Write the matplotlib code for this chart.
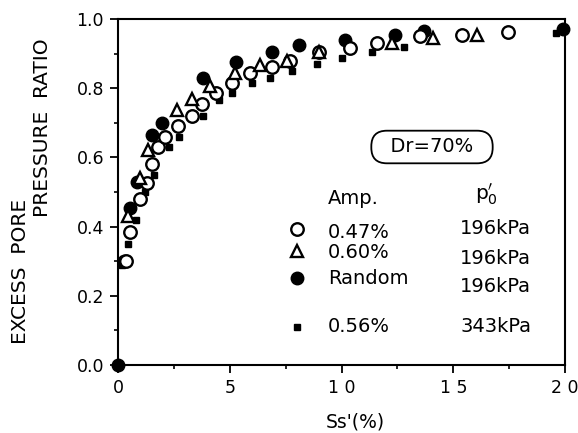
import numpy as np
import matplotlib
matplotlib.use("Agg")
import matplotlib.pyplot as plt

plt.rcParams['font.family'] = ['DejaVu Sans']

# 0.47%, 196kPa (open circles)
ss_047 = [0.35, 0.55, 1.0, 1.3, 1.5, 1.8, 2.1, 2.7, 3.3, 3.75, 4.4, 5.1, 5.9, 6.9,
          7.7, 9.0, 10.4, 11.6, 13.5, 15.4, 17.45]
r_047 = [0.30, 0.385, 0.48, 0.525, 0.58, 0.63, 0.66, 0.69, 0.72, 0.755, 0.785, 0.815,
         0.845, 0.86, 0.88, 0.905, 0.915, 0.93, 0.95, 0.954, 0.962]

# 0.60%, 196kPa (open triangles)
ss_060 = [0.45, 1.0, 1.35, 2.65, 3.3, 4.1, 5.25, 6.35, 7.55, 9.0, 12.25, 14.1, 16.05]
r_060 = [0.43, 0.54, 0.62, 0.737, 0.77, 0.805, 0.845, 0.867, 0.88, 0.905, 0.93,
         0.945, 0.954]

# Random, 196kPa (filled circles)
ss_rand = [0.0, 0.25, 0.55, 0.85, 1.5, 1.95, 3.8, 5.3, 6.9, 8.1, 10.15, 12.4, 13.7, 19.9]
r_rand = [0.0, 0.30, 0.455, 0.53, 0.665, 0.70, 0.83, 0.875, 0.905, 0.925, 0.94,
          0.955, 0.965, 0.97]

# 0.56%, 343kPa (small squares)
ss_056 = [0.0, 0.2, 0.45, 0.8, 1.2, 1.6, 2.3, 2.75, 3.8, 4.5, 5.1, 6.0, 6.8, 7.8,
          8.9, 10.0, 11.35, 12.8, 19.6]
r_056 = [0.0, 0.29, 0.35, 0.42, 0.50, 0.55, 0.63, 0.66, 0.72, 0.766, 0.785, 0.815,
         0.83, 0.85, 0.87, 0.887, 0.905, 0.92, 0.96]

amp_labels = ["0.47%", "0.60%", "Random", "0.56%"]
p0_labels = ["196kPa", "196kPa", "196kPa", "343kPa"]

fig = plt.figure(figsize=(5.78, 4.33), dpi=100)
ax = fig.add_axes([118 / 578, 1 - 365 / 433, 447 / 578, 346 / 433])

ax.plot(ss_rand, r_rand, 'o', ms=9, mfc='black', mec='black', zorder=3, clip_on=False)
ax.plot(ss_056, r_056, 's', ms=4.5, mfc='black', mec='black', zorder=4, clip_on=False)
ax.plot(ss_047, r_047, 'o', ms=9, mfc='white', mec='black', mew=1.7, zorder=5, clip_on=False)
ax.plot(ss_060, r_060, '^', ms=9, mfc='white', mec='black', mew=1.7, zorder=6, clip_on=False)

ax.set_xlim(0, 20)
ax.set_ylim(0, 1.0)
ax.set_xticks([0, 5, 10, 15, 20])
ax.set_xticklabels(["0", "5", "1 0", "1 5", "2 0"])
ax.set_xticks(np.arange(2.5, 20, 5), minor=True)
ax.set_yticks(np.arange(0, 1.01, 0.2))
ax.set_yticklabels(["0.0", "0.2", "0.4", "0.6", "0.8", "1.0"])
ax.set_yticks(np.arange(0.1, 1.0, 0.2), minor=True)
ax.tick_params(which='major', direction='out', length=6, width=1.3, labelsize=12.5,
               pad=4)
ax.tick_params(which='minor', direction='out', length=3, width=1.2)
for s in ax.spines.values():
    s.set_linewidth(1.5)

ax.set_xlabel("Ss'(%)", fontsize=13.5)
ax.xaxis.set_label_coords((355 - 118) / 447, -(413 - 365) / 346)

# two-line y label, offset as in the original
fig.text(21 / 578, 1 - 271 / 433, "EXCESS  PORE", rotation=90, fontsize=14.5,
         ha='center', va='center')
fig.text(43 / 578, 1 - 128 / 433, "PRESSURE  RATIO", rotation=90, fontsize=14.5,
         ha='center', va='center')


def fx(px):
    return (px - 118) / 447


def fy(py):
    return (365 - py) / 346


ax.text(fx(432), fy(147), "  Dr=70%  ", transform=ax.transAxes, fontsize=14,
        ha='center', va='center',
        bbox=dict(boxstyle='round,pad=0.35,rounding_size=0.8', fc='white', ec='black', lw=1.3))

ax.text(fx(328), fy(198), "Amp.", transform=ax.transAxes, fontsize=14,
        ha='left', va='center')
ax.text(fx(475), fy(194), r"p$_0^{\prime}$", transform=ax.transAxes, fontsize=14.5,
        ha='left', va='center')

key_y = [229, 251, 278, 327]
text_y = [232, 253, 279, 327]
kpa_y = [229, 259, 286, 327]
styles = [dict(marker='o', ms=9, mfc='white', mec='black', mew=1.7),
          dict(marker='^', ms=9, mfc='white', mec='black', mew=1.7),
          dict(marker='o', ms=9, mfc='black', mec='black'),
          dict(marker='s', ms=4.5, mfc='black', mec='black')]
for ky, ty, py, st, a, p in zip(key_y, text_y, kpa_y, styles, amp_labels, p0_labels):
    ax.plot([fx(297)], [fy(ky)], ls='none', transform=ax.transAxes, clip_on=False, **st)
    ax.text(fx(328), fy(ty), a, transform=ax.transAxes, fontsize=14,
            ha='left', va='center')
    ax.text(fx(460), fy(py), p, transform=ax.transAxes, fontsize=14,
            ha='left', va='center')

fig.savefig("out.png", dpi=100)
